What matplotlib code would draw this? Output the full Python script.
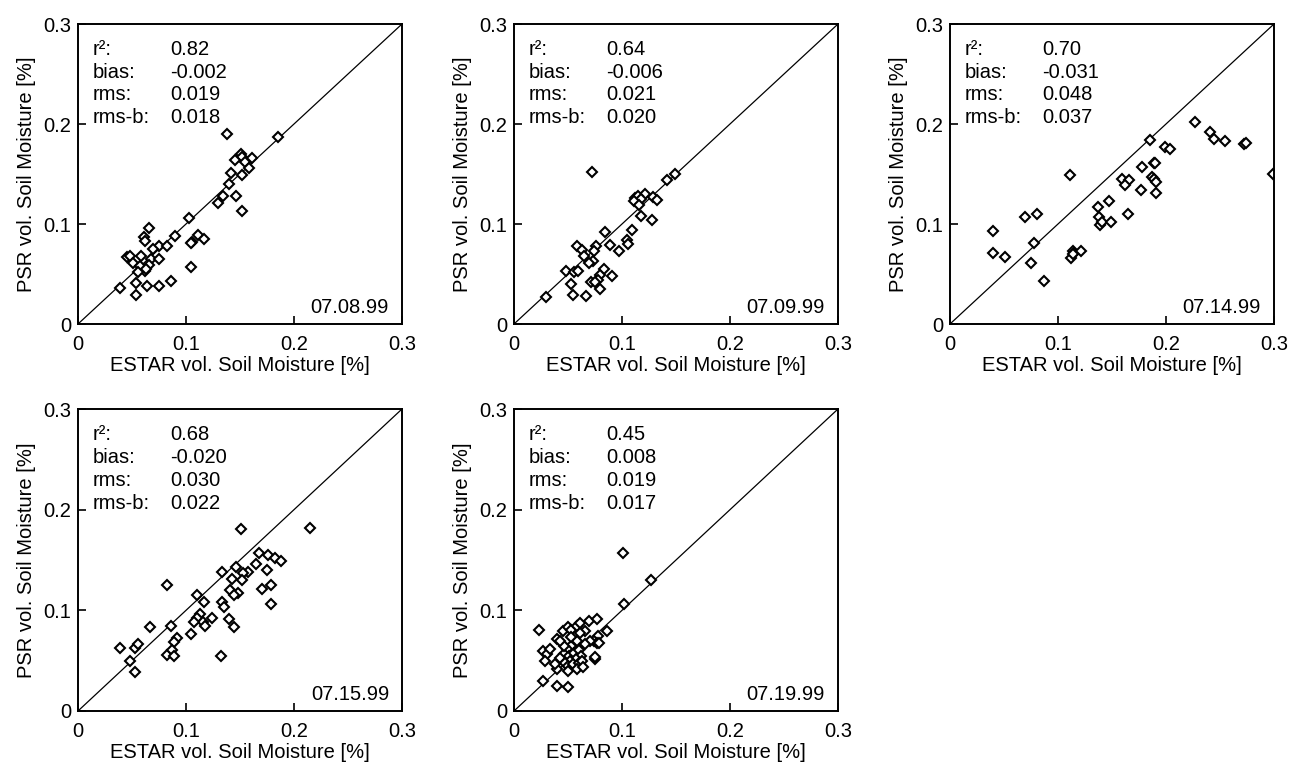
import matplotlib
matplotlib.use("Agg")
import matplotlib.pyplot as plt

plt.rcParams['font.family'] = ['Liberation Sans', 'DejaVu Sans']

# Dates of the five comparison flights
dates = ["07.08.99", "07.09.99", "07.14.99", "07.15.99", "07.19.99"]

# Statistics printed in each panel: r2, bias, rms, rms-b
r2_vals = ["0.82", "0.64", "0.70", "0.68", "0.45"]
bias_vals = ["-0.002", "-0.006", "-0.031", "-0.020", "0.008"]
rms_vals = ["0.019", "0.021", "0.048", "0.030", "0.019"]
rmsb_vals = ["0.018", "0.020", "0.037", "0.022", "0.017"]

# 07.08.99  (ESTAR, PSR)
estar_0708 = [0.138, 0.185, 0.151, 0.152, 0.145, 0.161, 0.155, 0.158, 0.142, 0.152,
              0.140, 0.134, 0.130, 0.146, 0.152, 0.103, 0.066, 0.061, 0.062, 0.090,
              0.111, 0.106, 0.105, 0.117, 0.075, 0.082, 0.069, 0.045, 0.048, 0.058,
              0.051, 0.057, 0.068, 0.075, 0.066, 0.062, 0.056, 0.105, 0.039, 0.054,
              0.064, 0.075, 0.086, 0.054, 0.063]
psr_0708 = [0.190, 0.187, 0.170, 0.167, 0.164, 0.166, 0.162, 0.156, 0.151, 0.149,
            0.140, 0.128, 0.121, 0.128, 0.113, 0.106, 0.096, 0.087, 0.083, 0.088,
            0.089, 0.082, 0.081, 0.085, 0.078, 0.078, 0.075, 0.067, 0.068, 0.068,
            0.061, 0.058, 0.065, 0.065, 0.059, 0.053, 0.052, 0.057, 0.036, 0.041,
            0.038, 0.038, 0.043, 0.029, 0.055]

# 07.09.99
estar_0709 = [0.072, 0.149, 0.142, 0.121, 0.112, 0.115, 0.118, 0.129, 0.132, 0.111,
              0.116, 0.118, 0.128, 0.109, 0.084, 0.105, 0.106, 0.089, 0.097, 0.058,
              0.063, 0.076, 0.074, 0.065, 0.073, 0.069, 0.048, 0.056, 0.059, 0.083,
              0.080, 0.091, 0.078, 0.071, 0.075, 0.080, 0.053, 0.055, 0.067, 0.030]
psr_0709 = [0.152, 0.150, 0.144, 0.130, 0.126, 0.128, 0.125, 0.127, 0.124, 0.123,
            0.119, 0.108, 0.104, 0.094, 0.092, 0.084, 0.080, 0.079, 0.073, 0.078,
            0.074, 0.078, 0.073, 0.068, 0.063, 0.061, 0.053, 0.052, 0.053, 0.055,
            0.049, 0.048, 0.044, 0.042, 0.042, 0.035, 0.040, 0.029, 0.028, 0.027]

# 07.14.99
estar_0714 = [0.185, 0.199, 0.204, 0.178, 0.189, 0.187, 0.189, 0.191, 0.191, 0.177,
              0.159, 0.166, 0.162, 0.165, 0.147, 0.137, 0.138, 0.139, 0.141, 0.149,
              0.111, 0.069, 0.081, 0.040, 0.040, 0.051, 0.078, 0.075, 0.087, 0.114,
              0.115, 0.121, 0.112, 0.114, 0.227, 0.241, 0.244, 0.255, 0.272, 0.274,
              0.299, 0.190]
psr_0714 = [0.184, 0.177, 0.175, 0.157, 0.161, 0.147, 0.145, 0.142, 0.131, 0.134,
            0.145, 0.144, 0.139, 0.110, 0.123, 0.117, 0.107, 0.099, 0.102, 0.102,
            0.149, 0.107, 0.110, 0.093, 0.071, 0.067, 0.081, 0.061, 0.043, 0.073,
            0.071, 0.073, 0.066, 0.070, 0.202, 0.192, 0.185, 0.183, 0.180, 0.181,
            0.150, 0.161]

# 07.15.99
estar_0715 = [0.151, 0.082, 0.168, 0.176, 0.182, 0.188, 0.165, 0.157, 0.153, 0.146,
              0.133, 0.175, 0.143, 0.152, 0.141, 0.148, 0.144, 0.170, 0.179, 0.179,
              0.110, 0.117, 0.133, 0.135, 0.113, 0.110, 0.116, 0.118, 0.124, 0.107,
              0.140, 0.144, 0.105, 0.086, 0.067, 0.092, 0.089, 0.039, 0.053, 0.056,
              0.082, 0.087, 0.089, 0.132, 0.048, 0.053, 0.215]
psr_0715 = [0.181, 0.125, 0.157, 0.155, 0.152, 0.149, 0.146, 0.138, 0.137, 0.143,
            0.138, 0.140, 0.131, 0.130, 0.120, 0.117, 0.115, 0.121, 0.125, 0.106,
            0.115, 0.108, 0.108, 0.103, 0.096, 0.092, 0.088, 0.084, 0.092, 0.088,
            0.091, 0.083, 0.076, 0.084, 0.083, 0.073, 0.069, 0.063, 0.063, 0.067,
            0.056, 0.061, 0.055, 0.055, 0.050, 0.039, 0.182]

# 07.19.99
estar_0719 = [0.023, 0.027, 0.031, 0.029, 0.033, 0.040, 0.045, 0.050, 0.053, 0.058,
              0.061, 0.069, 0.077, 0.086, 0.078, 0.074, 0.077, 0.070, 0.066, 0.058,
              0.053, 0.049, 0.046, 0.043, 0.051, 0.056, 0.060, 0.062, 0.057, 0.052,
              0.047, 0.040, 0.038, 0.050, 0.055, 0.060, 0.063, 0.050, 0.058, 0.075,
              0.064, 0.027, 0.040, 0.050, 0.046, 0.043, 0.053, 0.066, 0.061, 0.101,
              0.127, 0.102, 0.079, 0.075]
psr_0719 = [0.080, 0.060, 0.057, 0.050, 0.062, 0.072, 0.079, 0.083, 0.080, 0.084,
            0.087, 0.089, 0.091, 0.079, 0.075, 0.070, 0.068, 0.070, 0.067, 0.070,
            0.065, 0.062, 0.057, 0.053, 0.055, 0.058, 0.061, 0.055, 0.052, 0.050,
            0.048, 0.042, 0.047, 0.045, 0.047, 0.048, 0.050, 0.040, 0.042, 0.052,
            0.044, 0.030, 0.025, 0.024, 0.065, 0.070, 0.074, 0.079, 0.077, 0.157,
            0.130, 0.106, 0.068, 0.054]

estar_series = [estar_0708, estar_0709, estar_0714, estar_0715, estar_0719]
psr_series = [psr_0708, psr_0709, psr_0714, psr_0715, psr_0719]

ticks = [0, 0.1, 0.2, 0.3]
tick_labels = ["0", "0.1", "0.2", "0.3"]
FS = 14.5


def draw_panel(ax, estar, psr, date, r2, bias, rms, rmsb):
    ax.plot([0, 0.3], [0, 0.3], color='black', linewidth=0.9)
    ax.plot(estar, psr, linestyle='none', marker='D', markersize=5.2,
            markerfacecolor='white', markeredgecolor='black', markeredgewidth=1.5)
    ax.set_xlim(0, 0.3)
    ax.set_ylim(0, 0.3)
    ax.set_xticks(ticks)
    ax.set_xticklabels(tick_labels)
    ax.set_yticks(ticks)
    ax.set_yticklabels(tick_labels)
    ax.tick_params(direction='in', length=6, width=1.2, labelsize=FS)
    ax.tick_params(axis='x', pad=8)
    ax.tick_params(axis='y', pad=5)
    for sp in ax.spines.values():
        sp.set_linewidth(1.4)
    ax.set_xlabel("ESTAR vol. Soil Moisture [%]", fontsize=FS, labelpad=1)
    ax.set_ylabel("PSR vol. Soil Moisture [%]", fontsize=FS, labelpad=5)

    # statistics block in the upper left corner
    names = ["r\u00b2:", "bias:", "rms:", "rms-b:"]
    values = [r2, bias, rms, rmsb]
    for i in range(4):
        y = 1 - (31 + i * 22.7) / 300
        ax.text(0.046, y, names[i], transform=ax.transAxes, fontsize=FS, va='baseline')
        ax.text(0.284, y, values[i], transform=ax.transAxes, fontsize=FS, va='baseline')
    ax.text(0.96, 0.037, date, transform=ax.transAxes, fontsize=FS,
            ha='right', va='baseline')


fig = plt.figure(figsize=(13, 7.65), dpi=100)
W, H = 1300, 765
lefts = [78, 514, 950]
rows = [(24, 324), (409, 711)]
for i in range(5):
    left = lefts[i % 3]
    top, bottom = rows[i // 3]
    ax = fig.add_axes([left / W, 1 - bottom / H, 324 / W, (bottom - top) / H])
    draw_panel(ax, estar_series[i], psr_series[i], dates[i],
               r2_vals[i], bias_vals[i], rms_vals[i], rmsb_vals[i])

fig.savefig("out.png", dpi=100)
